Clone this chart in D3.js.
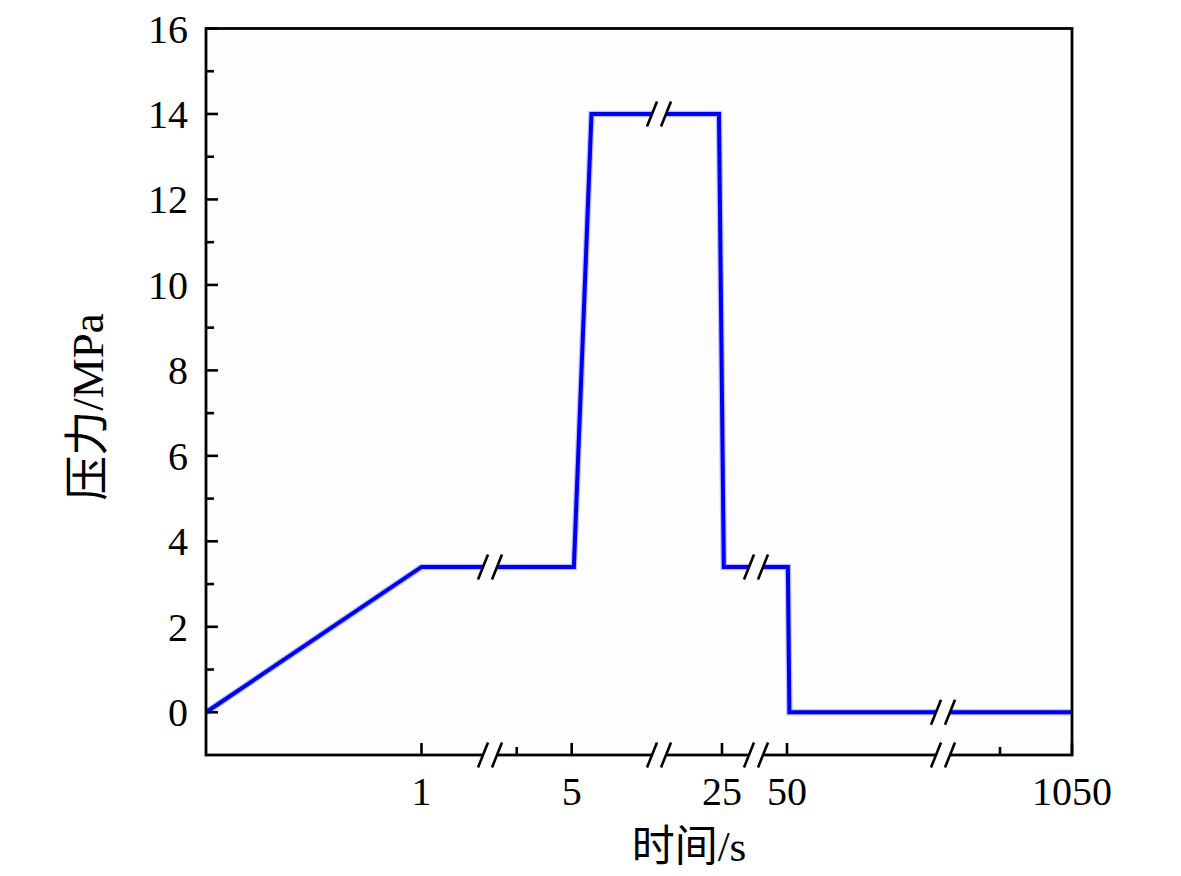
<!DOCTYPE html>
<html>
<head>
<meta charset="utf-8">
<script src="https://cdn.jsdelivr.net/npm/d3@7"></script>
<style>
  html, body { margin: 0; padding: 0; background: #ffffff; }
  svg { display: block; }
</style>
</head>
<body>
<svg id="chart" width="1181" height="876"></svg>
<script>
// ---------------- data ----------------
const timeS       = [0, 1, 5.02, 5.18, 24.95, 25.03, 50.03, 50.08, 1050];
const pressureMPa = [0, 3.4, 3.4, 14, 14, 3.4, 3.4, 0, 0];

const xMajorTicks = [1, 5, 25, 50, 1050];
const xTickLabels = ["1", "5", "25", "50", "1050"];
const xMinorTicks = [4.5, 1000];

const yMajorTicks = [0, 2, 4, 6, 8, 10, 12, 14, 16];
const yMinorTicks = [1, 3, 5, 7, 9, 11, 13, 15];

// broken time axis: visible time intervals (s) and their share of the axis width
const xSegments      = [[0, 1.318], [4.257, 5.794], [23.95, 25.567], [48.967, 55.2], [960.4, 1050]];
const xSegmentShares = [284, 169, 97, 187, 129];

const xTitle = "时间/s";
const yTitle = "压力/MPa";

// ---------------- layout ----------------
const plotL = 206, plotR = 1072, plotT = 28.5, plotB = 755;
const W = plotR - plotL;
const latin = "'Liberation Serif', 'Times New Roman', serif";
const mixed = "'Liberation Serif', 'Noto Sans CJK SC', serif";

const svg = d3.select("#chart");

// polylinear broken scale
const shareSum = d3.sum(xSegmentShares);
const xDomain = [], xRange = [];
let acc = plotL;
xSegments.forEach((seg, i) => {
  const w = W * xSegmentShares[i] / shareSum;
  xDomain.push(seg[0], seg[1]);
  xRange.push(acc, acc + w);
  acc += w;
});
const x = d3.scaleLinear().domain(xDomain).range(xRange);
const y = d3.scaleLinear().domain([-1, 16]).range([plotB, plotT]);

// break positions (pixel) between segments
const breaks = xSegments.slice(0, -1).map((seg, i) => ({ t: seg[1], px: xRange[2 * i + 1] }));

// plot background
const bg = "#fdfdfd";
svg.append("rect").attr("x", plotL).attr("y", plotT).attr("width", W).attr("height", plotB - plotT)
  .attr("fill", bg);

// data line
const pts = timeS.map((t, i) => [t, pressureMPa[i]]);
const line = d3.line().x(d => x(d[0])).y(d => y(d[1]));
svg.append("path").datum(pts).attr("d", line)
  .attr("fill", "none").attr("stroke", "#8c8cff").attr("stroke-width", 6.5)
  .attr("stroke-opacity", 0.55).attr("stroke-linejoin", "miter");
svg.append("path").datum(pts).attr("d", line)
  .attr("fill", "none").attr("stroke", "#0000f0").attr("stroke-width", 4)
  .attr("stroke-linejoin", "miter");

function pressureAt(t) {
  let k = 0;
  for (let i = 0; i < timeS.length; i++) if (timeS[i] <= t) k = i;
  return pressureMPa[k];
}

function drawBreak(cx, cy, fillCol) {
  const g = svg.append("g");
  const off = 7, dx = 5, dy = 12.5;
  g.append("polygon")
    .attr("points", [[cx - off - 2.4, cy + 6], [cx - off + 2.4, cy - 6], [cx + off + 2.4, cy - 6], [cx + off - 2.4, cy + 6]]
      .map(p => p.join(",")).join(" "))
    .attr("fill", fillCol);
  [-off, off].forEach(o => {
    g.append("line")
      .attr("x1", cx + o - dx).attr("y1", cy + dy)
      .attr("x2", cx + o + dx).attr("y2", cy - dy)
      .attr("stroke", "#000").attr("stroke-width", 2.6);
  });
}

// breaks on the data line
breaks.forEach(b => drawBreak(b.px, y(pressureAt(b.t)), bg));

// frame
const frame = svg.append("g").attr("stroke", "#000").attr("stroke-width", 2.8).attr("fill", "none");
frame.append("rect").attr("x", plotL).attr("y", plotT).attr("width", W).attr("height", plotB - plotT);

// y ticks (inward)
const ty = svg.append("g").attr("stroke", "#000").attr("stroke-width", 2.6);
yMajorTicks.forEach(v => ty.append("line").attr("x1", plotL).attr("x2", plotL + 12).attr("y1", y(v)).attr("y2", y(v)));
yMinorTicks.forEach(v => ty.append("line").attr("x1", plotL).attr("x2", plotL + 8).attr("y1", y(v)).attr("y2", y(v)));

// x ticks (inward)
const tx = svg.append("g").attr("stroke", "#000").attr("stroke-width", 2.6);
xMajorTicks.forEach(v => tx.append("line").attr("x1", x(v)).attr("x2", x(v)).attr("y1", plotB).attr("y2", plotB - 12));
xMinorTicks.forEach(v => tx.append("line").attr("x1", x(v)).attr("x2", x(v)).attr("y1", plotB).attr("y2", plotB - 8));

// breaks on x axis
breaks.forEach(b => drawBreak(b.px, plotB, "#ffffff"));

// y tick labels
svg.append("g").selectAll("text").data(yMajorTicks).join("text")
  .attr("x", 188).attr("y", d => y(d)).attr("dy", "0.35em")
  .attr("text-anchor", "end").attr("font-family", latin).attr("font-size", 40)
  .attr("fill", "#000").text(d => d);

// x tick labels
svg.append("g").selectAll("text").data(xMajorTicks).join("text")
  .attr("x", d => x(d)).attr("y", 805)
  .attr("text-anchor", "middle").attr("font-family", latin).attr("font-size", 40)
  .attr("fill", "#000").text((d, i) => xTickLabels[i]);

// axis titles
svg.append("text").attr("x", 689).attr("y", 861).attr("text-anchor", "middle")
  .attr("font-family", mixed).attr("font-size", 43).attr("fill", "#000").text(xTitle);

svg.append("text").attr("transform", "translate(103,407) rotate(-90)")
  .attr("text-anchor", "middle").attr("font-family", mixed).attr("font-size", 45)
  .attr("fill", "#000").text(yTitle);
</script>
</body>
</html>
